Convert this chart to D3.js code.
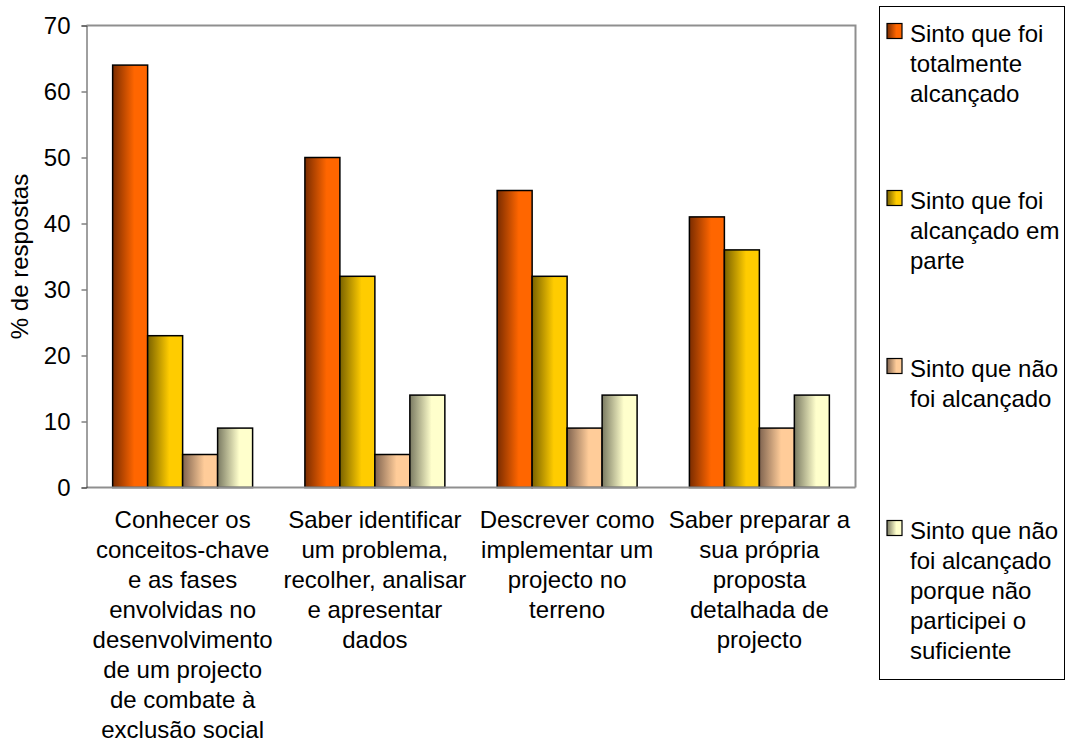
<!DOCTYPE html>
<html>
<head>
<meta charset="utf-8">
<script src="https://cdn.jsdelivr.net/npm/d3@7"></script>
<style>
  html, body { margin: 0; padding: 0; background: #fff; }
  svg { display: block; font-family: "Liberation Sans", Arial, sans-serif; }
</style>
</head>
<body>
<svg id="chart" width="1069" height="742"></svg>
<script>
// Objectives evaluated (x-axis categories, one array entry per wrapped line)
const categories = [
  ["Conhecer os", "conceitos-chave", "e as fases", "envolvidas no", "desenvolvimento", "de um projecto", "de combate à", "exclusão social"],
  ["Saber identificar", "um problema,", "recolher, analisar", "e apresentar", "dados"],
  ["Descrever como", "implementar um", "projecto no", "terreno"],
  ["Saber preparar a", "sua própria", "proposta", "detalhada de", "projecto"]
];

// Response options (legend)
const seriesNames = [
  ["Sinto que foi", "totalmente", "alcançado"],
  ["Sinto que foi", "alcançado em", "parte"],
  ["Sinto que não", "foi alcançado"],
  ["Sinto que não", "foi alcançado", "porque não", "participei o", "suficiente"]
];

// % of responses per series, one value per category
const totalmente   = [64, 50, 45, 41];
const emParte      = [23, 32, 32, 36];
const naoAlcancado = [5, 5, 9, 9];
const naoParticip  = [9, 14, 14, 14];
const seriesValues = [totalmente, emParte, naoAlcancado, naoParticip];

const yTicks = [0, 10, 20, 30, 40, 50, 60, 70];

// Gradient colours per series: [shadow, full]
const seriesColors = [
  ["#7a2c00", "#ff6600"],
  ["#7a6200", "#ffcc00"],
  ["#806450", "#ffcc99"],
  ["#7a7a62", "#ffffcc"]
];

const svg = d3.select("#chart");
const plot = { left: 86.5, right: 855.5, top: 25.5, bottom: 487.5 };
const fontSize = 24;
const lineH = 30;

// Gradients
const defs = svg.append("defs");
seriesColors.forEach((c, i) => {
  const g = defs.append("linearGradient")
    .attr("id", "grad" + i)
    .attr("x1", "0%").attr("x2", "100%").attr("y1", "0%").attr("y2", "0%");
  g.append("stop").attr("offset", "0%").attr("stop-color", c[0]);
  g.append("stop").attr("offset", "62%").attr("stop-color", c[1]);
  g.append("stop").attr("offset", "100%").attr("stop-color", c[1]);
});

const x0 = d3.scaleBand()
  .domain(d3.range(categories.length))
  .range([plot.left, plot.right])
  .paddingInner(0.272)
  .paddingOuter(0.136);

const x1 = d3.scaleBand()
  .domain(d3.range(seriesValues.length))
  .range([0, x0.bandwidth()])
  .padding(0);

const y = d3.scaleLinear().domain([0, 70]).range([plot.bottom, plot.top]);

// Plot frame (top and right edges)
svg.append("path")
  .attr("d", `M${plot.left},${plot.top}H${plot.right}V${plot.bottom}`)
  .attr("fill", "none")
  .attr("stroke", "#8f8f8f")
  .attr("stroke-width", 2);

// Bars
const groups = svg.append("g").selectAll("g")
  .data(categories)
  .join("g")
  .attr("transform", (d, i) => `translate(${x0(i)},0)`);

groups.selectAll("rect")
  .data((d, ci) => seriesValues.map((vals, si) => ({ si, v: vals[ci] })))
  .join("rect")
  .attr("x", d => x1(d.si))
  .attr("width", x1.bandwidth())
  .attr("y", d => y(d.v))
  .attr("height", d => y(0) - y(d.v))
  .attr("fill", d => `url(#grad${d.si})`)
  .attr("stroke", "#000")
  .attr("stroke-width", 1.5);

// Bottom axis line
svg.append("line")
  .attr("x1", plot.left).attr("x2", plot.right)
  .attr("y1", plot.bottom).attr("y2", plot.bottom)
  .attr("stroke", "#8f8f8f").attr("stroke-width", 2);

// Y axis
const yAxis = svg.append("g")
  .attr("transform", `translate(${plot.left},0)`)
  .call(d3.axisLeft(y).tickValues(yTicks).tickSize(5).tickPadding(11).tickFormat(d3.format("d")));
yAxis.select(".domain").attr("stroke", "#404040");
yAxis.selectAll(".tick line").attr("stroke", "#404040");
yAxis.selectAll("text")
  .attr("font-size", fontSize)
  .attr("fill", "#000")
  .attr("font-family", "'Liberation Sans', Arial, sans-serif");

// Y axis title
svg.append("text")
  .attr("transform", `translate(28,${(plot.top + plot.bottom) / 2}) rotate(-90)`)
  .attr("text-anchor", "middle")
  .attr("font-size", fontSize)
  .attr("fill", "#000")
  .text("% de respostas");

// Category labels
const catLabels = svg.append("g").selectAll("text")
  .data(categories)
  .join("text")
  .attr("text-anchor", "middle")
  .attr("font-size", fontSize)
  .attr("fill", "#000")
  .attr("transform", (d, i) => `translate(${x0(i) + x0.bandwidth() / 2},528)`);
catLabels.selectAll("tspan")
  .data(d => d)
  .join("tspan")
  .attr("x", 0)
  .attr("y", (d, i) => i * lineH)
  .text(d => d);

// Legend
const legendBox = { x: 879.5, y: 6.5, w: 185, h: 673 };
svg.append("rect")
  .attr("x", legendBox.x).attr("y", legendBox.y)
  .attr("width", legendBox.w).attr("height", legendBox.h)
  .attr("fill", "#fff").attr("stroke", "#000").attr("stroke-width", 1);

const legendRowY = [33, 200, 368, 530];
const legendItems = svg.append("g").selectAll("g")
  .data(seriesNames)
  .join("g")
  .attr("transform", (d, i) => `translate(887,${legendRowY[i]})`);

legendItems.append("rect")
  .attr("x", 0).attr("y", -9.5)
  .attr("width", 15).attr("height", 15)
  .attr("fill", (d, i) => `url(#grad${i})`)
  .attr("stroke", "#000").attr("stroke-width", 1.2);

const legendText = legendItems.append("text")
  .attr("font-size", fontSize)
  .attr("fill", "#000");
legendText.selectAll("tspan")
  .data(d => d)
  .join("tspan")
  .attr("x", 23)
  .attr("y", (d, i) => 8.5 + i * lineH)
  .text(d => d);
</script>
</body>
</html>
